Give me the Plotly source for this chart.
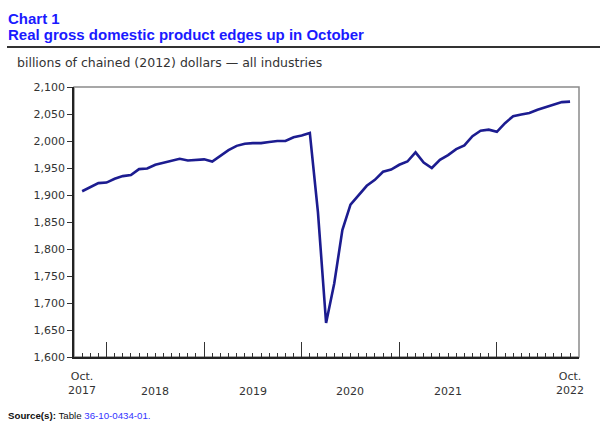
import plotly.graph_objects as go

# ---- data (billions of chained 2012 dollars), Oct 2017 .. Oct 2022 ----
months = ["Oct 2017", "Nov 2017", "Dec 2017",
          "Jan 2018", "Feb 2018", "Mar 2018", "Apr 2018", "May 2018", "Jun 2018",
          "Jul 2018", "Aug 2018", "Sep 2018", "Oct 2018", "Nov 2018", "Dec 2018",
          "Jan 2019", "Feb 2019", "Mar 2019", "Apr 2019", "May 2019", "Jun 2019",
          "Jul 2019", "Aug 2019", "Sep 2019", "Oct 2019", "Nov 2019", "Dec 2019",
          "Jan 2020", "Feb 2020", "Mar 2020", "Apr 2020", "May 2020", "Jun 2020",
          "Jul 2020", "Aug 2020", "Sep 2020", "Oct 2020", "Nov 2020", "Dec 2020",
          "Jan 2021", "Feb 2021", "Mar 2021", "Apr 2021", "May 2021", "Jun 2021",
          "Jul 2021", "Aug 2021", "Sep 2021", "Oct 2021", "Nov 2021", "Dec 2021",
          "Jan 2022", "Feb 2022", "Mar 2022", "Apr 2022", "May 2022", "Jun 2022",
          "Jul 2022", "Aug 2022", "Sep 2022", "Oct 2022"]

gdp = [1907, 1915, 1922,
       1923, 1930, 1935, 1937, 1948, 1949,
       1956, 1960, 1963, 1967, 1964, 1965,
       1966, 1962, 1972, 1983, 1991, 1995,
       1996, 1996, 1998, 2000, 2000, 2007,
       2010, 2015, 1868, 1663, 1736, 1835,
       1882, 1900, 1917, 1928, 1943, 1947,
       1956, 1962, 1979, 1960, 1950, 1965,
       1974, 1985, 1992, 2009, 2019, 2021,
       2017, 2033, 2046, 2049, 2052, 2058,
       2063, 2068, 2072, 2073]

y_ticks = [1600, 1650, 1700, 1750, 1800, 1850, 1900, 1950, 2000, 2050, 2100]
y_tick_text = ["1,600", "1,650", "1,700", "1,750", "1,800", "1,850",
               "1,900", "1,950", "2,000", "2,050", "2,100"]
year_labels = ["2018", "2019", "2020", "2021"]
end_labels = ["Oct.<br>2017", "Oct.<br>2022"]

title1 = "Chart 1"
title2 = "Real gross domestic product edges up in October"
subtitle = "billions of chained (2012) dollars \u2014 all industries"

# ---- layout geometry ----
W, H = 600, 427
L, R, T, B = 74, 21, 87, 70
PW, PH = W - L - R, H - T - B

def px(x):
    return (x - L) / PW

def py(y):
    return (H - B - y) / PH

idx = list(range(len(gdp)))
jan_idx = [i for i, m in enumerate(months) if m.startswith("Jan")]

fig = go.Figure()
fig.add_trace(go.Scatter(x=idx, y=gdp, mode="lines",
                         line=dict(color="#1c1c90", width=2.6),
                         hoverinfo="skip", showlegend=False))

fig.update_layout(
    width=W, height=H,
    margin=dict(l=L, r=R, t=T, b=B),
    paper_bgcolor="white", plot_bgcolor="white",
    font=dict(family="DejaVu Sans, Verdana, sans-serif", size=11, color="#333333"),
    xaxis=dict(range=[-1, 61.1], showgrid=False, zeroline=False,
               showline=True, linecolor="#222222", linewidth=1.5,
               tickmode="array", tickvals=jan_idx, ticktext=[""] * len(jan_idx),
               ticks="inside", ticklen=15, tickcolor="#333333", tickwidth=1,
               minor=dict(tick0=0, dtick=1, ticks="inside", ticklen=4,
                          tickcolor="#333333", tickwidth=1, showgrid=False)),
    yaxis=dict(range=[1600, 2100], showgrid=False, zeroline=False,
               showline=True, linecolor="#222222", linewidth=1.5,
               tickmode="array", tickvals=y_ticks, ticktext=y_tick_text,
               ticks="outside", ticklen=5, tickcolor="#333333",
               tickfont=dict(size=11, color="#333333")),
)

# grey frame (top / right)
fig.add_shape(type="rect", xref="paper", yref="paper", x0=0, x1=1, y0=0, y1=1,
              line=dict(color="#8a8a8a", width=1.5), layer="below")

# rule under title
fig.add_shape(type="line", xref="paper", yref="paper",
              x0=px(7), x1=px(600), y0=py(47), y1=py(47),
              line=dict(color="#333333", width=2))

# title lines
fig.add_annotation(xref="paper", yref="paper", x=px(6), y=py(18), xanchor="left",
                   yanchor="middle", showarrow=False, text="<b>" + title1 + "</b>",
                   font=dict(family="Liberation Sans, Arial, sans-serif", size=15, color="#1a1aff"))
fig.add_annotation(xref="paper", yref="paper", x=px(6), y=py(34.5), xanchor="left",
                   yanchor="middle", showarrow=False, text="<b>" + title2 + "</b>",
                   font=dict(family="Liberation Sans, Arial, sans-serif", size=15, color="#1a1aff"))

# subtitle
fig.add_annotation(xref="paper", yref="paper", x=px(15), y=py(62), xanchor="left",
                   yanchor="middle", showarrow=False, text=subtitle,
                   font=dict(family="DejaVu Sans, Verdana, sans-serif", size=12.5, color="#333333"))

# x labels: end labels + years
fig.add_annotation(xref="x", yref="paper", x=0, y=py(383), xanchor="center",
                   yanchor="middle", showarrow=False, text=end_labels[0],
                   font=dict(size=11, color="#333333"))
fig.add_annotation(xref="x", yref="paper", x=len(gdp) - 1, y=py(383), xanchor="center",
                   yanchor="middle", showarrow=False, text=end_labels[1],
                   font=dict(size=11, color="#333333"))
for k, lab in enumerate(year_labels):
    xc = (jan_idx[k] + jan_idx[k + 1]) / 2
    fig.add_annotation(xref="x", yref="paper", x=xc, y=py(391), xanchor="center",
                       yanchor="middle", showarrow=False, text=lab,
                       font=dict(size=11, color="#333333"))

# source
fig.add_annotation(xref="paper", yref="paper", x=px(6), y=py(415), xanchor="left",
                   yanchor="middle", showarrow=False,
                   text="<b>Source(s):</b> Table <span style='color:#3333ff'>36-10-0434-01.</span>",
                   font=dict(family="Liberation Sans, Arial, sans-serif", size=9.7, color="#111111"))

fig.write_html("out.html", config={"displayModeBar": False},
               post_script="document.body.style.margin='0';document.body.style.overflow='hidden';")
